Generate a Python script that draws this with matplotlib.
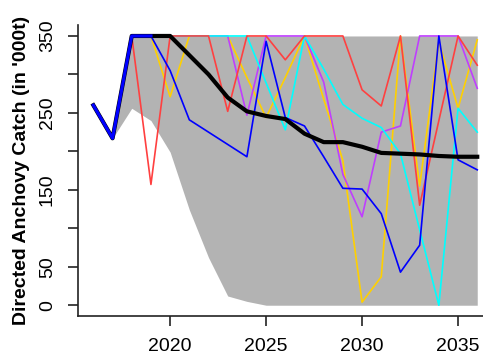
import matplotlib
matplotlib.use("Agg")
import matplotlib.pyplot as plt

plt.rcParams['font.family'] = ['Liberation Sans', 'DejaVu Sans']

# ---- data ----
years = list(range(2016, 2037))
hist_years = [2016, 2017, 2018, 2019]
hist_catch = [260, 217, 350, 350]

median_catch = [260, 217, 350, 350, 350, 325, 300, 270, 252, 246, 242,
                223, 212, 212, 206, 198, 197, 196, 194, 193, 193]

band_years = list(range(2017, 2037))
band_upper = [217, 350, 350, 350, 350, 350, 350, 350, 350, 350,
              350, 350, 350, 350, 350, 350, 350, 350, 350, 350]
band_lower = [217, 256, 240, 199, 124, 62, 12, 5, 0, 0,
              0, 0, 0, 0, 0, 0, 0, 0, 0, 0]

trace_years = list(range(2018, 2037))
trace_gold = [350, 350, 271, 350, 350, 350, 296, 244, 296, 350,
              268, 188, 4, 37, 350, 155, 343, 256, 345]
trace_purple = [350, 350, 350, 350, 350, 350, 247, 350, 350, 350,
                290, 170, 115, 225, 233, 350, 350, 350, 282]
trace_cyan = [350, 350, 350, 350, 350, 350, 350, 289, 228, 350,
              307, 261, 243, 231, 197, 98, 0, 256, 225]
trace_red = [350, 157, 350, 350, 350, 252, 350, 350, 319, 350,
             350, 350, 280, 259, 350, 130, 240, 350, 312]
trace_blue = [350, 350, 305, 241, 225, 209, 193, 343, 244, 233,
              193, 152, 151, 119, 43, 78, 350, 189, 176]

x_ticks = [2020, 2025, 2030, 2035]
y_ticks = [0, 50, 100, 150, 200, 250, 300, 350]
y_ticklabels = ['0', '50', '', '150', '', '250', '', '350']
y_label = "Directed Anchovy Catch (in '000t)"

# ---- figure ----
W, H = 483, 363
fig = plt.figure(figsize=(W / 100, H / 100), dpi=100)
ax = fig.add_axes([78 / W, (H - 316) / H, (492.6 - 78) / W, (316 - 25.2) / H])

ax.fill_between(band_years, band_lower, band_upper, color='#B3B3B3', linewidth=0)

lw = 1.2
ax.plot(trace_years, trace_gold, color='#FFD000', lw=lw)
ax.plot(trace_years, trace_purple, color='#BF3EFF', lw=lw)
ax.plot(trace_years, trace_cyan, color='#00FFFF', lw=lw)
ax.plot(trace_years, trace_red, color='#FF4040', lw=lw)
ax.plot(trace_years, trace_blue, color='#0000FF', lw=lw)

ax.plot(years, median_catch, color='black', lw=3.0, solid_joinstyle='round')
ax.plot(hist_years, hist_catch, color='#0000FF', lw=2.3, solid_joinstyle='round')

ax.set_xlim(2015.2, 2036.8)
ax.set_ylim(-14, 364)

ax.set_xticks(x_ticks)
ax.set_xticklabels([str(t) for t in x_ticks])
ax.set_yticks(y_ticks)
ax.set_yticklabels(y_ticklabels, rotation=90, va='center')

ax.tick_params(axis='both', direction='out', length=7, width=1.2,
               labelsize=14, pad=9, color='#222222')
for s in ['top', 'right']:
    ax.spines[s].set_visible(False)
for s in ['left', 'bottom']:
    ax.spines[s].set_linewidth(1.2)
    ax.spines[s].set_color('#222222')

fig.text(22 / W, 1 - 170 / H, y_label, rotation=90, ha='center', va='center',
         fontsize=14, fontweight='bold')

fig.savefig('out.png', dpi=100)
